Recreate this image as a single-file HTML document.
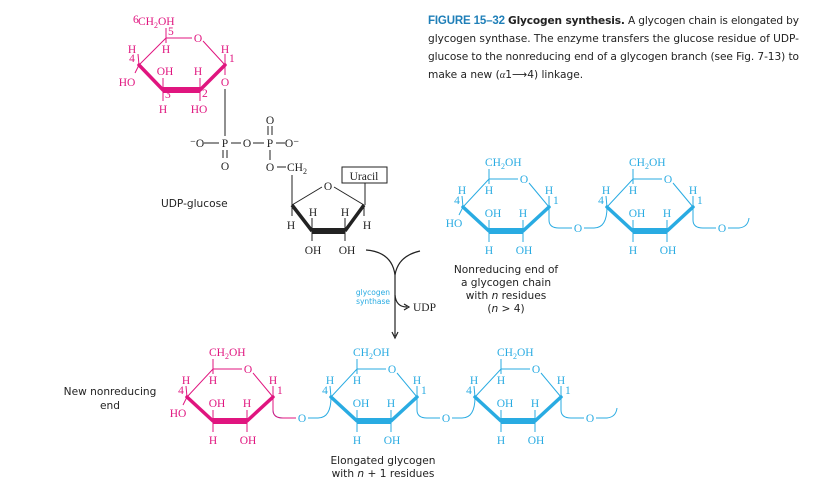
<!DOCTYPE html>
<html><head><meta charset="utf-8"><style>
html,body{margin:0;padding:0;background:#fff;}
svg{display:block;}
.c{font-family:"Liberation Serif",serif;font-size:11.5px;}
.s{font-family:"DejaVu Sans","Liberation Sans",sans-serif;}
.cap{font-family:"DejaVu Sans","Liberation Sans",sans-serif;font-size:10.6px;fill:#222;}
</style></head><body>
<svg width="823" height="498" viewBox="0 0 823 498" xmlns="http://www.w3.org/2000/svg">
<defs>
<g id="ring">
  <path d="M0,0 L26,-28 L55,-28 M66,-24 L86,0" fill="none" stroke="currentColor" stroke-width="1"/>
  <path d="M0,0 L26,24" stroke="currentColor" stroke-width="3.5" stroke-linecap="round"/>
  <path d="M60,24 L86,0" stroke="currentColor" stroke-width="3.5" stroke-linecap="round"/>
  <path d="M26,24 L60,24" stroke="currentColor" stroke-width="6"/>
  <path d="M26,-28 L26,-38 M26,-28 L26,-23 M0,0 L-1,-11 M86,0 L86,-11 M26,24 L26,13 M60,24 L60,13 M26,24 L26,35 M60,24 L60,35" stroke="currentColor" stroke-width="1" fill="none"/>
  <text class="c" x="61" y="-24" text-anchor="middle" fill="currentColor">O</text>
  <text class="c" x="22" y="-41" fill="currentColor">CH<tspan font-size="8" dy="3">2</tspan><tspan dy="-3">OH</tspan></text>
  <text class="c" x="26" y="-13" text-anchor="middle" fill="currentColor">H</text>
  <text class="c" x="-1" y="-13" text-anchor="middle" fill="currentColor">H</text>
  <text class="c" x="86" y="-13" text-anchor="middle" fill="currentColor">H</text>
  <text class="c" x="30" y="10" text-anchor="middle" fill="currentColor">OH</text>
  <text class="c" x="60" y="10" text-anchor="middle" fill="currentColor">H</text>
  <text class="c" x="26" y="47" text-anchor="middle" fill="currentColor">H</text>
  <text class="c" x="61" y="47" text-anchor="middle" fill="currentColor">OH</text>
  <text class="c" x="-6" y="-3" font-size="7" text-anchor="middle" fill="currentColor">4</text>
  <text class="c" x="90" y="-3" font-size="7" fill="currentColor">1</text>
</g>
<g id="ho">
  <path d="M0,0 L-4,8" stroke="currentColor" stroke-width="1"/>
  <text class="c" x="-9" y="20" text-anchor="middle" fill="currentColor">HO</text>
</g>
<g id="link">
  <path d="M86,0 L86,13 Q86,21 96,21 L109,21 M121,21 L131,21 Q144,21 144,0" fill="none" stroke="currentColor" stroke-width="1"/>
  <text class="c" x="115" y="25" text-anchor="middle" fill="currentColor">O</text>
</g>
<g id="tail">
  <path d="M86,0 L86,13 Q86,21 96,21 L109,21 M121,21 L132,21 Q141,20 142,11" fill="none" stroke="currentColor" stroke-width="1"/>
  <text class="c" x="115" y="25" text-anchor="middle" fill="currentColor">O</text>
</g>
</defs>

<!-- UDP-glucose pink ring -->
<g color="#e0157f" transform="translate(139,65)">
  <path d="M0,0 L27,-27 L53,-27 M64,-24 L86,0" fill="none" stroke="currentColor" stroke-width="1"/>
  <path d="M0,0 L24,25" stroke="currentColor" stroke-width="3.5" stroke-linecap="round"/>
  <path d="M61,25 L86,0" stroke="currentColor" stroke-width="3.5" stroke-linecap="round"/>
  <path d="M24,25 L61,25" stroke="currentColor" stroke-width="6"/>
  <path d="M27,-27 L27,-37 M27,-27 L27,-22 M0,0 L-1,-11 M86,0 L86,-11 M86,0 L86,10 M24,25 L24,13 M61,25 L61,13 M24,25 L24,36 M61,25 L61,36 M0,0 L-4,8" stroke="currentColor" stroke-width="1" fill="none"/>
  <text class="c" x="59" y="-23" text-anchor="middle" fill="currentColor">O</text>
  <text class="c" x="-6" y="-42" font-size="7" fill="currentColor">6</text>
  <text class="c" x="-1" y="-40" fill="currentColor">CH<tspan font-size="8" dy="3">2</tspan><tspan dy="-3">OH</tspan></text>
  <text class="c" x="29" y="-30" font-size="7" fill="currentColor">5</text>
  <text class="c" x="27" y="-12" text-anchor="middle" fill="currentColor">H</text>
  <text class="c" x="-7" y="-12" text-anchor="middle" fill="currentColor">H</text>
  <text class="c" x="86" y="-12" text-anchor="middle" fill="currentColor">H</text>
  <text class="c" x="86" y="21" text-anchor="middle" fill="currentColor">O</text>
  <text class="c" x="26" y="10" text-anchor="middle" fill="currentColor">OH</text>
  <text class="c" x="59" y="10" text-anchor="middle" fill="currentColor">H</text>
  <text class="c" x="-12" y="21" text-anchor="middle" fill="currentColor">HO</text>
  <text class="c" x="24" y="48" text-anchor="middle" fill="currentColor">H</text>
  <text class="c" x="60" y="48" text-anchor="middle" fill="currentColor">HO</text>
  <text class="c" x="26" y="33" font-size="7" fill="currentColor">3</text>
  <text class="c" x="63" y="32" font-size="7" fill="currentColor">2</text>
  <text class="c" x="-7" y="-3" font-size="7" text-anchor="middle" fill="currentColor">4</text>
  <text class="c" x="90" y="-3" font-size="7" fill="currentColor">1</text>
</g>

<!-- phosphates -->
<g stroke="#222" stroke-width="1" fill="none">
  <path d="M225,89 L225,136 M204,143 L219,143 M231,143 L241,143 M253,143 L264,143 M276,143 L285,143 M223,150 L223,158 M227,150 L227,158 M268,126 L268,135 M272,126 L272,135 M270,150 L270,160 M277,167 L286,167 M292,175 L292,205"/>
  <path d="M292,205 L322,187 M334,187 L364,205" />
  <path d="M292,205 L312,231 M345,231 L364,205" stroke-width="3.5"/>
  <path d="M312,231 L345,231" stroke-width="6"/>
  <path d="M292,205 L292,216 M312,231 L312,218 M345,231 L345,218 M364,205 L364,216 M312,231 L312,241 M345,231 L345,241 M365,183 L365,205"/>
  <rect x="342" y="167" width="45" height="16"/>
</g>
<g fill="#222">
  <text class="c" x="197" y="147" text-anchor="middle">⁻O</text>
  <text class="c" x="225" y="147" text-anchor="middle">P</text>
  <text class="c" x="247" y="147" text-anchor="middle">O</text>
  <text class="c" x="270" y="147" text-anchor="middle">P</text>
  <text class="c" x="292" y="147" text-anchor="middle">O⁻</text>
  <text class="c" x="270" y="124" text-anchor="middle">O</text>
  <text class="c" x="225" y="170" text-anchor="middle">O</text>
  <text class="c" x="270" y="171" text-anchor="middle">O</text>
  <text class="c" x="287" y="171">CH<tspan font-size="8" dy="3">2</tspan></text>
  <text class="c" x="328" y="190" text-anchor="middle">O</text>
  <text class="c" x="364" y="180" text-anchor="middle">Uracil</text>
  <text class="c" x="291" y="229" text-anchor="middle">H</text>
  <text class="c" x="313" y="216" text-anchor="middle">H</text>
  <text class="c" x="345" y="216" text-anchor="middle">H</text>
  <text class="c" x="367" y="229" text-anchor="middle">H</text>
  <text class="c" x="313" y="254" text-anchor="middle">OH</text>
  <text class="c" x="347" y="254" text-anchor="middle">OH</text>
</g>
<text class="s" x="161" y="207" font-size="10.6" fill="#222">UDP-glucose</text>

<!-- reaction arrow -->
<g stroke="#222" stroke-width="1.2" fill="none">
  <path d="M366,250 Q392,252 395,275 L395,336"/>
  <path d="M420,251 Q398,256 395,275"/>
  <path d="M395,295 Q396,307 407,307"/>
  <path d="M404,304 L409,307 L404,310"/>
  <path d="M392,332 L395,338 L398,332"/>
</g>
<text class="s" x="390" y="295" font-size="7.5" fill="#29abe2" text-anchor="end">glycogen</text>
<text class="s" x="390" y="304" font-size="7.5" fill="#29abe2" text-anchor="end">synthase</text>
<text class="c" x="413" y="311" fill="#222" font-size="11.5">UDP</text>

<!-- top glycogen -->
<g color="#29abe2">
  <use href="#ring" x="463" y="207"/><use href="#ho" x="463" y="207"/><use href="#link" x="463" y="207"/>
  <use href="#ring" x="607" y="207"/><use href="#tail" x="607" y="207"/>
</g>
<g class="s" font-size="10.6" fill="#222" text-anchor="middle">
  <text x="506" y="273">Nonreducing end of</text>
  <text x="506" y="286">a glycogen chain</text>
  <text x="506" y="299">with <tspan font-style="italic">n</tspan> residues</text>
  <text x="506" y="312">(<tspan font-style="italic">n</tspan> &gt; 4)</text>
</g>

<!-- bottom chain -->
<g color="#e0157f"><use href="#ring" x="187" y="397"/><use href="#ho" x="187" y="397"/></g>
<g color="#29abe2">
  <use href="#link" x="187" y="397"/>
  <use href="#ring" x="331" y="397"/><use href="#link" x="331" y="397"/>
  <use href="#ring" x="475" y="397"/><use href="#tail" x="475" y="397"/>
</g>
<path d="M273,397 L273,410 Q273,418 283,418 L296,418" stroke="#e0157f" fill="none"/>
<g class="s" font-size="10.6" fill="#222" text-anchor="middle">
  <text x="110" y="395">New nonreducing</text>
  <text x="110" y="409">end</text>
  <text x="383" y="464">Elongated glycogen</text>
  <text x="383" y="477">with <tspan font-style="italic">n</tspan> + 1 residues</text>
</g>

<!-- caption -->
<g class="cap">
  <text x="428" y="24" textLength="371" lengthAdjust="spacing"><tspan font-weight="bold" fill="#1f7fb8" font-family="'Liberation Sans Narrow','Liberation Sans',sans-serif" font-size="11.5">FIGURE 15–32</tspan> <tspan font-weight="bold">Glycogen synthesis.</tspan> A glycogen chain is elongated by</text>
  <text x="428" y="42" textLength="371" lengthAdjust="spacing">glycogen synthase. The enzyme transfers the glucose residue of UDP-</text>
  <text x="428" y="60" textLength="371" lengthAdjust="spacing">glucose to the nonreducing end of a glycogen branch (see Fig. 7-13) to</text>
  <text x="428" y="78">make a new (<tspan font-style="italic" font-family="'Liberation Serif',serif">α</tspan>1⟶4) linkage.</text>
</g>
</svg>
</body></html>
